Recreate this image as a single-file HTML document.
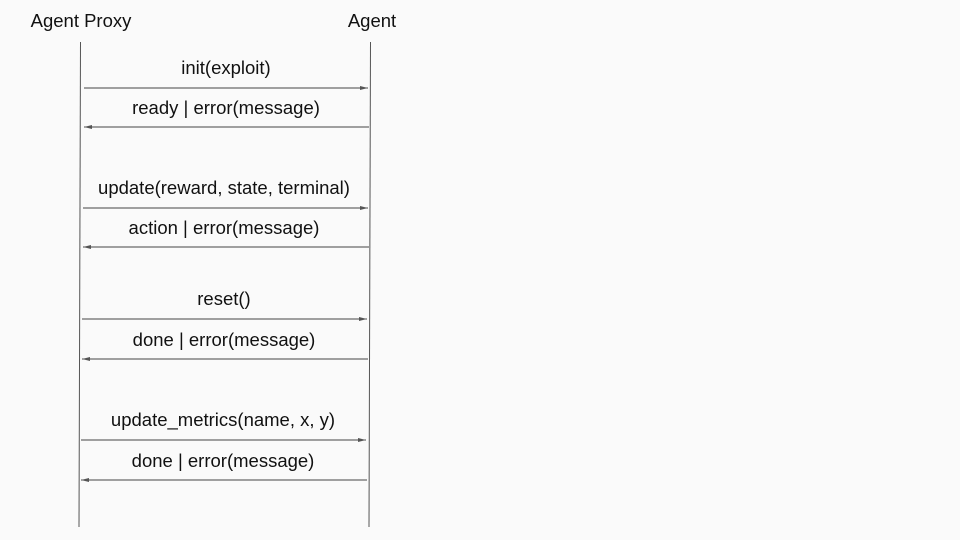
<!DOCTYPE html>
<html><head><meta charset="utf-8"><style>
html,body{margin:0;padding:0;background:#fafafa;}
svg{display:block;}
text{font-family:"Liberation Sans",Arial,sans-serif;font-size:18.5px;fill:#111;}
</style></head><body>
<svg width="960" height="540" viewBox="0 0 960 540" xmlns="http://www.w3.org/2000/svg">
<defs>
<marker id="a" markerWidth="8" markerHeight="6" refX="8" refY="3" orient="auto" markerUnits="userSpaceOnUse">
<path d="M0,1 L8,3 L0,5 Z" fill="#555"/></marker>
</defs>
<rect width="960" height="540" fill="#fafafa"/>
<text x="81" y="27" text-anchor="middle">Agent Proxy</text>
<text x="372" y="27" text-anchor="middle">Agent</text>
<line x1="80.5" y1="42" x2="79" y2="527" stroke="#555" stroke-width="1"/>
<line x1="370.5" y1="42" x2="369" y2="527" stroke="#555" stroke-width="1"/>
<g stroke="#444" stroke-width="1">
<line x1="84" y1="88" x2="368" y2="88" marker-end="url(#a)"/>
<line x1="369" y1="127" x2="84" y2="127" marker-end="url(#a)"/>
<line x1="83" y1="208" x2="368" y2="208" marker-end="url(#a)"/>
<line x1="369" y1="247" x2="83" y2="247" marker-end="url(#a)"/>
<line x1="82" y1="319" x2="367" y2="319" marker-end="url(#a)"/>
<line x1="368" y1="359" x2="82" y2="359" marker-end="url(#a)"/>
<line x1="81" y1="440" x2="366" y2="440" marker-end="url(#a)"/>
<line x1="367" y1="480" x2="81" y2="480" marker-end="url(#a)"/>
</g>
<text x="226" y="74" text-anchor="middle">init(exploit)</text>
<text x="226" y="114" text-anchor="middle">ready | error(message)</text>
<text x="224" y="194" text-anchor="middle">update(reward, state, terminal)</text>
<text x="224" y="234" text-anchor="middle">action | error(message)</text>
<text x="224" y="305" text-anchor="middle">reset()</text>
<text x="224" y="346" text-anchor="middle">done | error(message)</text>
<text x="223" y="426" text-anchor="middle">update_metrics(name, x, y)</text>
<text x="223" y="467" text-anchor="middle">done | error(message)</text>
</svg>
</body></html>
